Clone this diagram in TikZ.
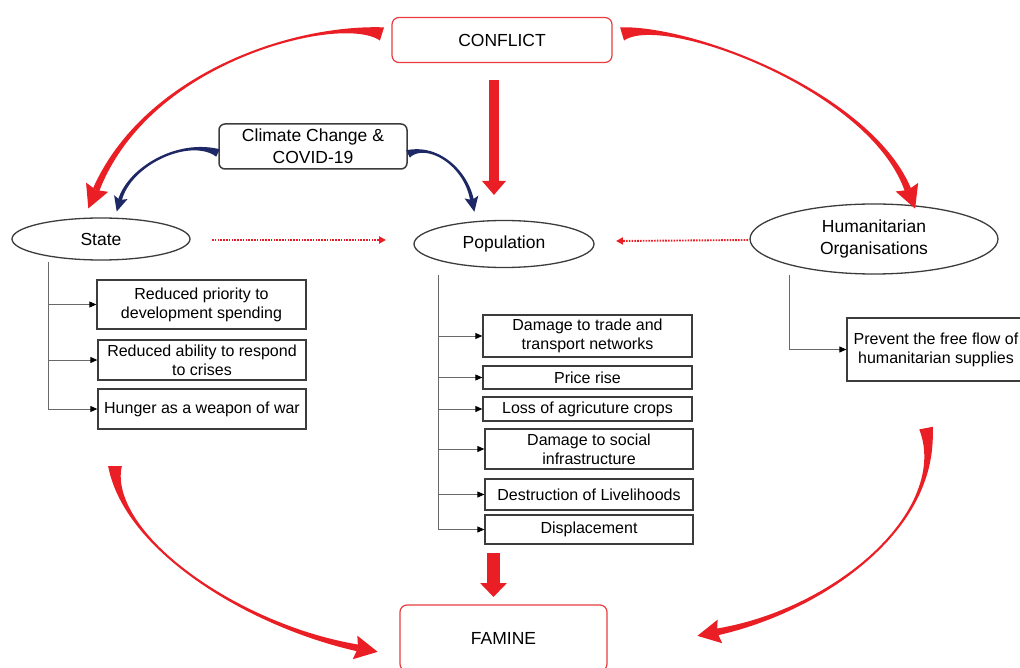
\documentclass[tikz,border=0pt]{standalone}
\usepackage{fontspec}
\setmainfont{Liberation Sans}
\usetikzlibrary{arrows.meta,shapes.geometric}
\definecolor{arrred}{RGB}{234,30,37}
\definecolor{boxred}{RGB}{232,60,64}
\definecolor{navyblue}{RGB}{30,40,100}
\definecolor{edgegray}{RGB}{60,60,60}
\definecolor{conngray}{RGB}{105,105,105}
\def\pAx{0}\def\pAy{0}\def\pBx{0}\def\pBy{0}\def\pCx{0}\def\pCy{0}\def\pDx{0}\def\pDy{0}
\def\tapMid{1.8}\def\tapTail{12}\def\tapEnd{5}\def\hwid{12}\def\hlen{20}
% tapered curved arrow: #1 colour, #2..#9 = P0,P1,P2,P3 in pixels
\newcommand\taperarrow[9]{%
  \pgfmathsetmacro\pAx{#2/100}\pgfmathsetmacro\pAy{#3/100}%
  \pgfmathsetmacro\pBx{#4/100}\pgfmathsetmacro\pBy{#5/100}%
  \pgfmathsetmacro\pCx{#6/100}\pgfmathsetmacro\pCy{#7/100}%
  \pgfmathsetmacro\pDx{#8/100}\pgfmathsetmacro\pDy{#9/100}%
  \fill[#1] plot[variable=\t,domain=0:1,samples=80] ({100*(bzx(\t)+ox(\t))},{100*(bzy(\t)+oy(\t))})
     -- plot[variable=\t,domain=1:0,samples=80] ({100*(bzx(\t)-ox(\t))},{100*(bzy(\t)-oy(\t))}) -- cycle;
  \pgfmathsetmacro\uX{ddx(1)/nlen(1)}\pgfmathsetmacro\uY{ddy(1)/nlen(1)}%
  \fill[#1] ({#8-\uY*\hwid-\uX*3},{#9+\uX*\hwid-\uY*3}) -- ({#8+\uX*\hlen},{#9+\uY*\hlen})
     -- ({#8+\uY*\hwid-\uX*3},{#9-\uX*\hwid-\uY*3}) -- ({#8},{#9}) -- cycle;
}
\begin{document}
\begin{tikzpicture}[x=1pt,y=-1pt,
  declare function={
    bzx(\t)=(1-\t)^3*\pAx+3*(1-\t)^2*\t*\pBx+3*(1-\t)*\t^2*\pCx+\t^3*\pDx;
    bzy(\t)=(1-\t)^3*\pAy+3*(1-\t)^2*\t*\pBy+3*(1-\t)*\t^2*\pCy+\t^3*\pDy;
    ddx(\t)=3*(1-\t)^2*(\pBx-\pAx)+6*(1-\t)*\t*(\pCx-\pBx)+3*\t^2*(\pDx-\pCx);
    ddy(\t)=3*(1-\t)^2*(\pBy-\pAy)+6*(1-\t)*\t*(\pCy-\pBy)+3*\t^2*(\pDy-\pCy);
    nlen(\t)=sqrt(ddx(\t)^2+ddy(\t)^2);
    wid(\t)=(\tapMid+\tapTail*(1-\t)^8+\tapEnd*\t^4)/200;
    ox(\t)=-ddy(\t)/nlen(\t)*wid(\t);
    oy(\t)=ddx(\t)/nlen(\t)*wid(\t);
  },
  box/.style={draw=edgegray, line width=1.3pt, fill=white, inner sep=0pt, align=center,
    font=\fontsize{16}{19}\selectfont},
  oval/.style={ellipse, draw=edgegray, line width=1.3pt, fill=white, inner sep=0pt, align=center,
    font=\fontsize{17.5}{22}\selectfont},
  redbox/.style={draw=boxred, line width=1.2pt, rounded corners=7pt, fill=white, inner sep=0pt,
    align=center, font=\fontsize{17.5}{22}\selectfont},
  graybox/.style={draw=edgegray, line width=1.5pt, rounded corners=6pt, fill=white, inner sep=0pt,
    align=center, font=\fontsize{17.5}{22}\selectfont},
  branch/.style={draw=conngray, line width=0.9pt, -{Triangle[length=7pt,width=6pt,color=black]}},
  trunk/.style={draw=conngray, line width=0.9pt},
  dotarrow/.style={draw=arrred, line width=1.9pt, dash pattern=on 1.6pt off 1.2pt,
    -{Triangle[length=7pt,width=7pt]}},
  bigarrow/.style={draw=arrred}
]
\useasboundingbox (0,0) rectangle (1020,668);
\clip (0,0) rectangle (1020,668);

% main nodes
\node[redbox, minimum width=220pt, minimum height=45pt] (conflict) at (502,40) {CONFLICT};
\node[graybox, minimum width=188pt, minimum height=45pt] (climate) at (313,146.5) {Climate Change \&\\COVID-19};
\node[oval, minimum width=178pt, minimum height=42pt] (state) at (101,239) {State};
\node[oval, minimum width=180pt, minimum height=47pt] (population) at (504,244) {Population};
\node[oval, minimum width=248pt, minimum height=70pt] (human) at (874,239) {Humanitarian\\Organisations};
\node[redbox, minimum width=207pt, minimum height=66pt] (famine) at (503.5,638) {FAMINE};

% state boxes
\node[box, minimum width=209pt, minimum height=49pt] (s1) at (201.5,304.5) {Reduced priority to\\development spending};
\node[box, minimum width=208pt, minimum height=40pt] (s2) at (202,360) {Reduced ability to respond\\to crises};
\node[box, minimum width=208pt, minimum height=40pt] (s3) at (202,409) {Hunger as a weapon of war};

% population boxes
\node[box, minimum width=209pt, minimum height=42pt] (p1) at (587.5,336) {Damage to trade and\\transport networks};
\node[box, minimum width=209pt, minimum height=23pt] (p2) at (587.5,377.5) {Price rise};
\node[box, minimum width=209pt, minimum height=24pt] (p3) at (587.5,409) {Loss of agricuture crops};
\node[box, minimum width=208pt, minimum height=40pt] (p4) at (589,449) {Damage to social\\infrastructure};
\node[box, minimum width=208pt, minimum height=31pt] (p5) at (589,494.5) {Destruction of Livelihoods};
\node[box, minimum width=208pt, minimum height=29pt] (p6) at (589,529.5) {Displacement};

% humanitarian box
\node[box, minimum width=178pt, minimum height=63pt] (h1) at (936,349.5) {Prevent the free flow of\\humanitarian supplies};

% state trunk and branches
\coordinate (st0) at (48,262);
\draw[trunk] (st0) -- (st0 |- s3.west);
\foreach \b in {s1,s2,s3} \draw[branch] (st0 |- \b.west) -- (\b.west);

% population trunk and branches
\coordinate (pt0) at (438,275);
\draw[trunk] (pt0) -- (pt0 |- p6.west);
\foreach \b in {p1,p2,p3,p4,p5,p6} \draw[branch] (pt0 |- \b.west) -- (\b.west);

% humanitarian branch
\coordinate (ht0) at (789,275);
\draw[branch] (ht0) |- (h1.west);

% dotted arrows
\coordinate (dsa) at (212,240);
\coordinate (dsb) at (386,240);
\draw[dotarrow] (dsa) -- (dsb);
\coordinate (dha) at (748,240);
\coordinate (dhb) at (616,241);
\draw[dotarrow] (dha) -- (dhb);

% straight red arrows
\coordinate (cpa) at (494,80);
\coordinate (cpb) at (494,195);
\draw[bigarrow, line width=10pt, -{Triangle[length=14pt,width=23pt]}] (cpa) -- (cpb);
\coordinate (pfa) at (493.5,553);
\coordinate (pfb) at (493.5,597);
\draw[bigarrow, line width=13pt, -{Triangle[length=14pt,width=26pt]}] (pfa) -- (pfb);

% curved red arrows
\taperarrow{arrred}{382}{34}{330}{18}{150}{60}{96}{190}
\taperarrow{arrred}{622}{34}{674}{18}{870}{90}{908}{190}
\taperarrow{arrred}{115}{466}{115}{540}{240}{625}{358}{648}
\taperarrow{arrred}{926}{428}{945}{520}{830}{610}{717}{632}

% curved blue arrows
\def\tapMid{2.3}\def\tapTail{6}\def\tapEnd{1.5}\def\hwid{7}\def\hlen{12}
\taperarrow{navyblue}{218}{153}{185}{138}{130}{165}{120}{200}
\taperarrow{navyblue}{408}{154}{430}{143}{465}{165}{472}{200}
\end{tikzpicture}
\end{document}
